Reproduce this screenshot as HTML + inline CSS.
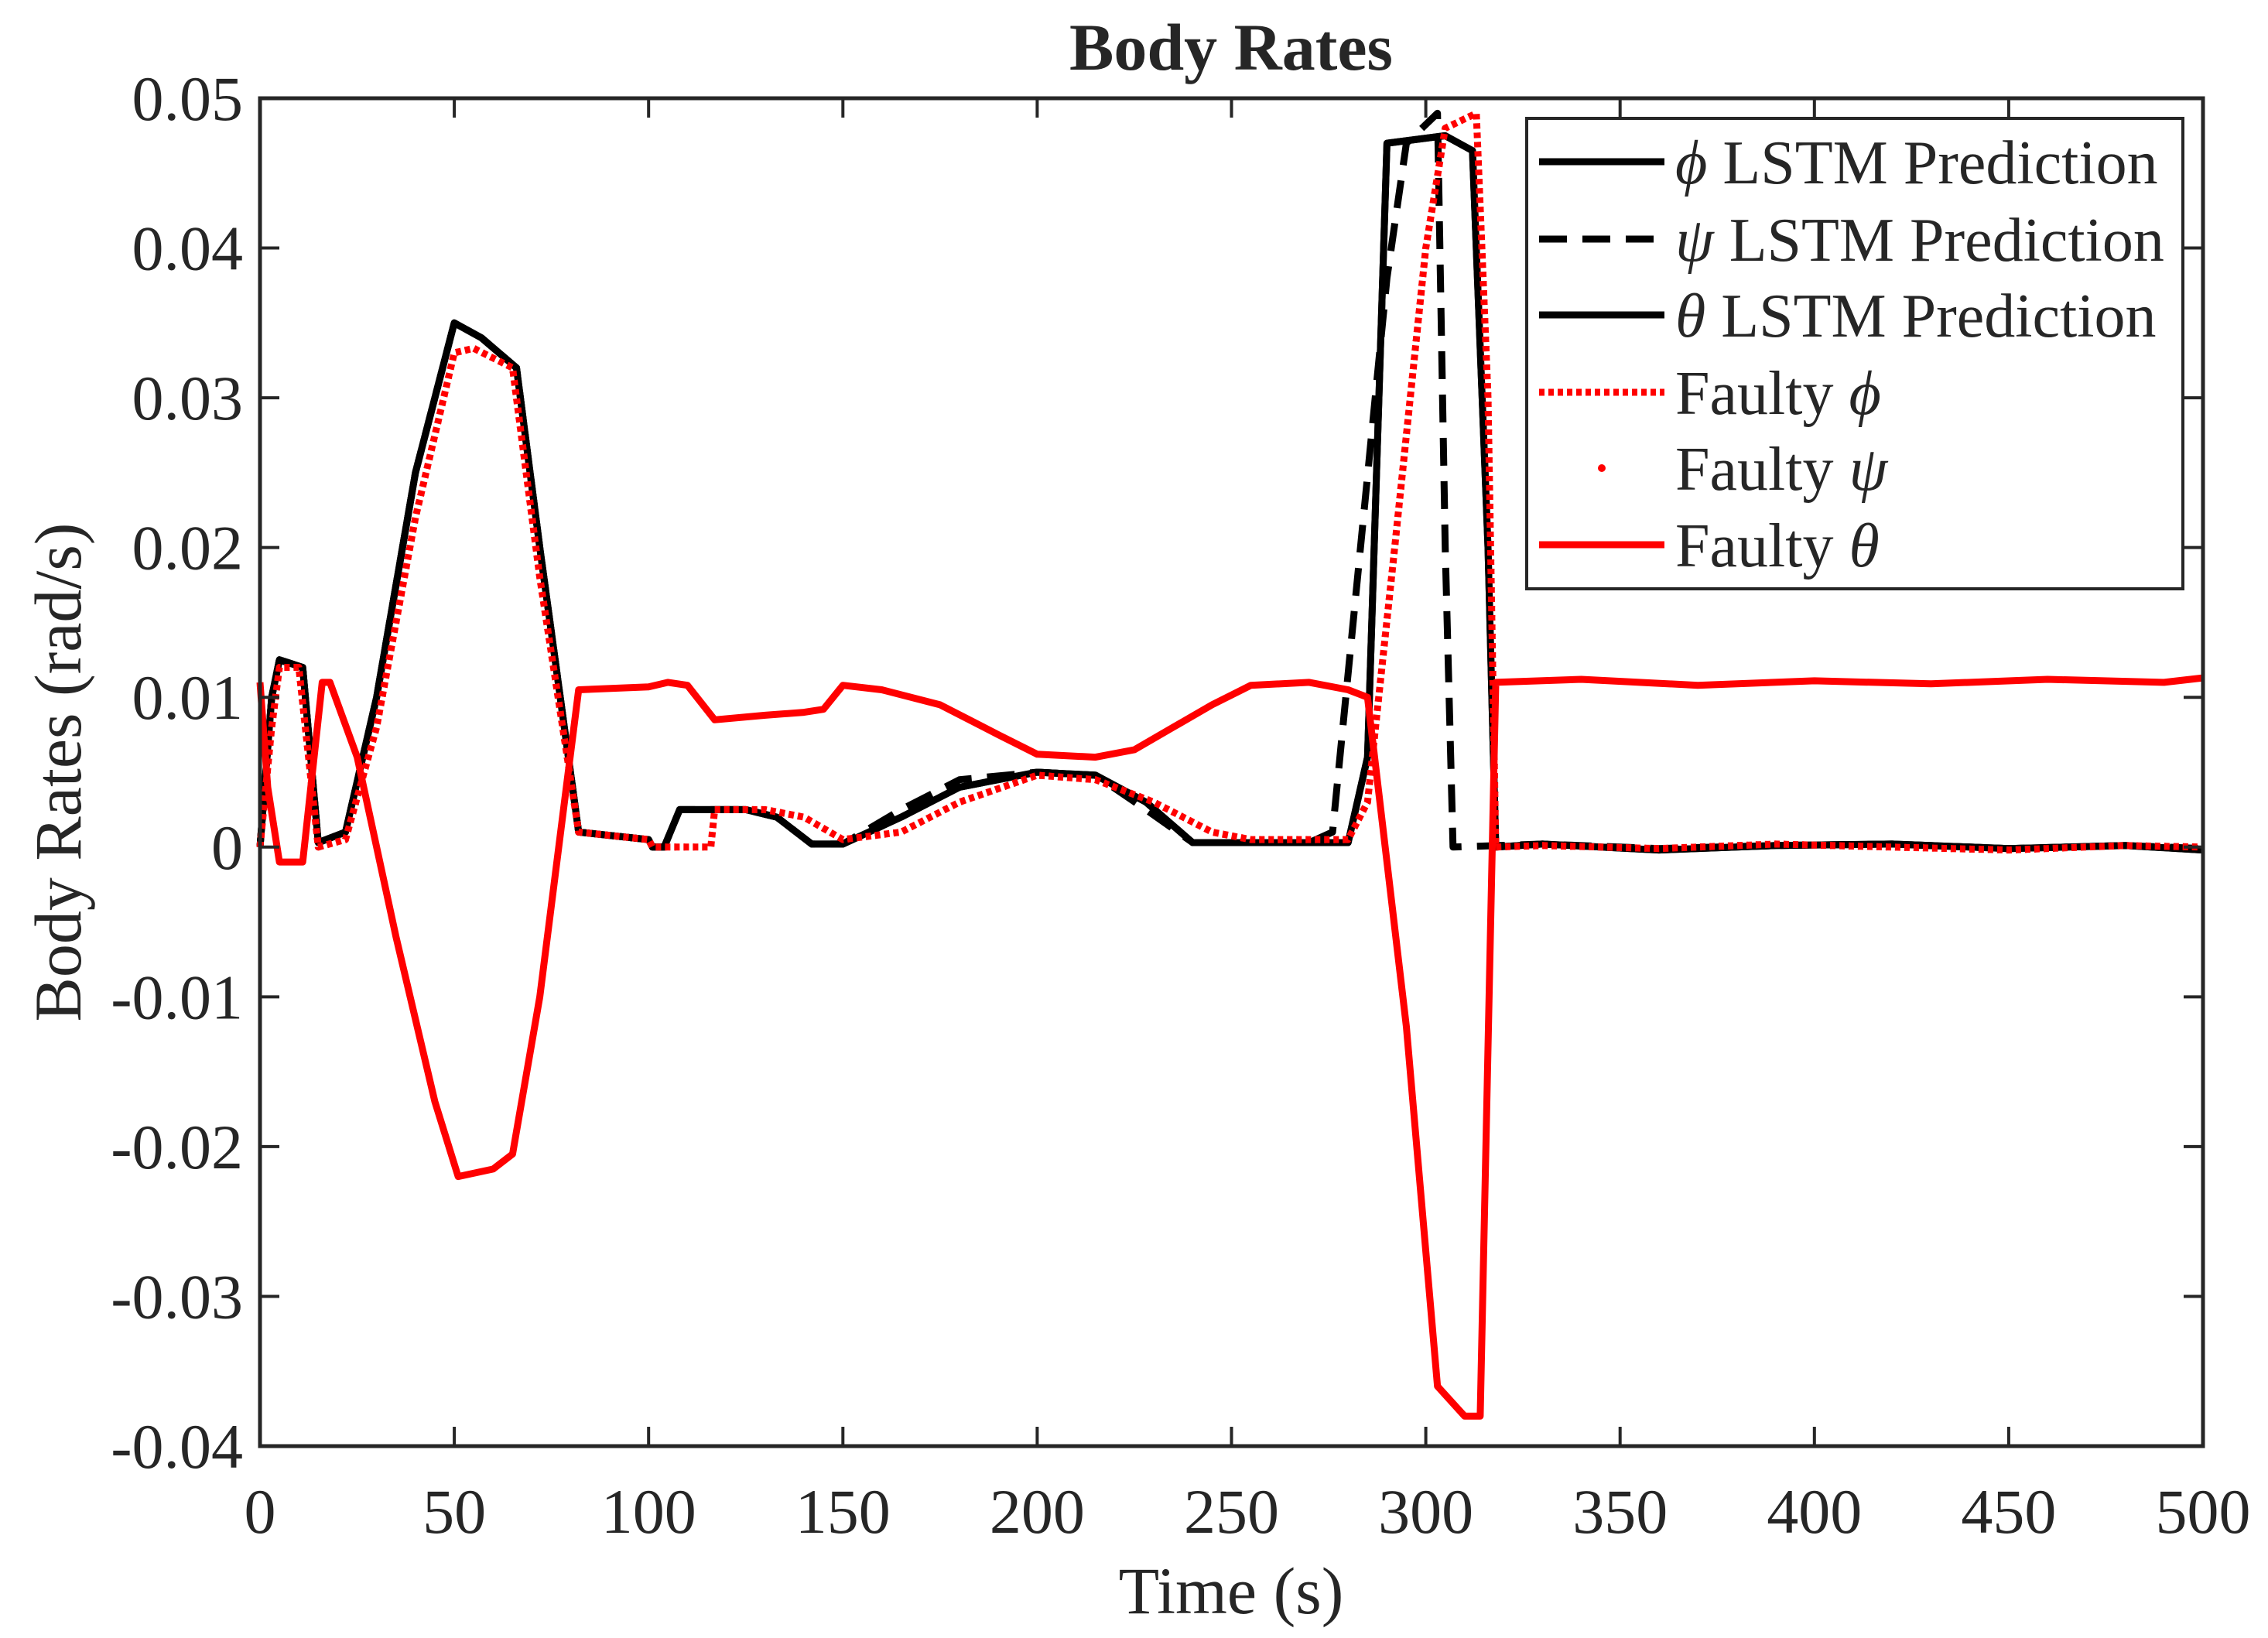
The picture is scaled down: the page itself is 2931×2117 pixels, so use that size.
<!DOCTYPE html>
<html><head><meta charset="utf-8"><style>
html,body{margin:0;padding:0;background:#fff}
svg{display:block}
text{font-family:"Liberation Serif",serif;fill:#262626}
</style></head><body>
<svg id="chart" width="2931" height="2117" viewBox="0 0 2931 2117" xmlns="http://www.w3.org/2000/svg">
<rect width="2931" height="2117" fill="#fff"/>
<g id="plot"></g>
<g id="axes"></g>
<text x="1591" y="90" font-size="86" font-weight="bold" text-anchor="middle" fill="#000">Body Rates</text>
<text x="1591" y="2085" font-size="86" text-anchor="middle">Time (s)</text>
<text transform="translate(104,998) rotate(-90)" font-size="86" text-anchor="middle">Body Rates (rad/s)</text>
<g id="legend"></g>
</svg>
<script>
const xTicks=[0,50,100,150,200,250,300,350,400,450,500];
const yTicks=[-0.04,-0.03,-0.02,-0.01,0,0.01,0.02,0.03,0.04,0.05];
const yTickLabels=["-0.04","-0.03","-0.02","-0.01","0","0.01","0.02","0.03","0.04","0.05"];

const tLstmPhi=[0,3,5,11,15,22,30,40,50,57,66,72,82,100,101,104,108,125,133,142,150,165,180,200,215,228,240,280,285,290,305,312,316,318,330,360,390,420,450,480,500];
const vLstmPhi=[0,0.01,0.0125,0.012,0.0003,0.001,0.01,0.025,0.035,0.034,0.032,0.02,0.001,0.0005,0,0,0.0025,0.0025,0.002,0.0002,0.0002,0.002,0.004,0.005,0.0048,0.003,0.0003,0.0003,0.006,0.047,0.0475,0.0465,0.02,0,0.0002,-0.0002,0.0001,0.0002,-0.0001,0.0001,-0.0002];
const tLstmPsi=[0,3,5,11,15,22,30,40,50,57,66,72,82,100,101,104,108,125,133,142,150,165,180,200,215,228,240,270,276,290,295,303,305,307,330,360,390,420,450,480,500];
const vLstmPsi=[0,0.01,0.0125,0.012,0.0003,0.001,0.01,0.025,0.035,0.034,0.032,0.02,0.001,0.0005,0,0,0.0025,0.0025,0.002,0.0002,0.0002,0.0025,0.0045,0.005,0.0048,0.0025,0.0003,0.0003,0.001,0.038,0.047,0.049,0.02,0,0.0002,-0.0001,0.0001,0.0002,-0.0001,0.0001,-0.0001];
const tLstmTheta=tLstmPhi;
const vLstmTheta=vLstmPhi;
const tFaultyPhi=[0,3,5,10,15,22,30,40,50,55,65,72,82,100,101,116,117,130,140,150,165,180,200,215,230,245,255,280,285,292,300,305,313,316,318,330,360,390,420,450,480,500];
const vFaultyPhi=[0,0.008,0.012,0.012,0,0.0005,0.008,0.022,0.033,0.0333,0.032,0.018,0.001,0.0005,0,0,0.0025,0.0025,0.002,0.0005,0.001,0.003,0.0048,0.0045,0.003,0.001,0.0005,0.0005,0.003,0.02,0.04,0.048,0.049,0.03,0,0.0001,-0.0001,0.0002,0,-0.0002,0.0001,0];
const tFaultyPsi=tFaultyPhi;
const vFaultyPsi=vFaultyPhi;
const tFaultyTheta=[0,2,5,11,16,18,25,35,45,51,60,65,72,82,100,105,110,117,130,140,145,150,160,175,190,200,215,225,235,245,255,270,280,285,295,303,310,314,318,340,370,400,430,460,490,500];
const vFaultyTheta=[0.011,0.004,-0.001,-0.001,0.011,0.011,0.006,-0.006,-0.017,-0.022,-0.0215,-0.0205,-0.01,0.0105,0.0107,0.011,0.0108,0.0085,0.0088,0.009,0.0092,0.0108,0.0105,0.0095,0.0075,0.0062,0.006,0.0065,0.008,0.0095,0.0108,0.011,0.0105,0.01,-0.012,-0.036,-0.038,-0.038,0.011,0.0112,0.0108,0.0111,0.0109,0.0112,0.011,0.0113];

const L=336,R=2847,T=127,B=1869;
const xs=t=>L+(t-0)/(500-0)*(R-L);
const ys=v=>B-(v-(-0.04))/(0.05-(-0.04))*(B-T);
const NS="http://www.w3.org/2000/svg";
function mk(tag,attrs,parent){const e=document.createElementNS(NS,tag);for(const k in attrs)e.setAttribute(k,attrs[k]);parent.appendChild(e);return e;}
const plot=document.getElementById('plot'),axes=document.getElementById('axes'),leg=document.getElementById('legend');
function pts(ts,vs){return ts.map((t,i)=>xs(t).toFixed(1)+','+ys(vs[i]).toFixed(1)).join(' ');}
const series=[
 {t:tLstmPhi,v:vLstmPhi,c:'#000',d:'',name:'lstm-phi-line'},
 {t:tLstmPsi,v:vLstmPsi,c:'#000',d:'36,20',name:'lstm-psi-line'},
 {t:tLstmTheta,v:vLstmTheta,c:'#000',d:'',name:'lstm-theta-line'},
 {t:tFaultyTheta,v:vFaultyTheta,c:'#ff0000',d:'',name:'faulty-theta-line'},
 {t:tFaultyPhi,v:vFaultyPhi,c:'#ff0000',d:'7,5',name:'faulty-phi-line'},
 {t:tFaultyPsi,v:vFaultyPsi,c:'#ff0000',d:'2,10',name:'faulty-psi-line'}];
series.forEach(s=>{
 const p=mk('polyline',{points:pts(s.t,s.v),fill:'none',stroke:s.c,'stroke-width':9,'stroke-linejoin':'round'},plot);
 if(s.d)p.setAttribute('stroke-dasharray',s.d);
 
 
});
mk('rect',{x:L,y:T,width:R-L,height:B-T,fill:'none',stroke:'#262626','stroke-width':5},axes);
xTicks.forEach(t=>{
 const x=xs(t);
 mk('line',{x1:x,x2:x,y1:B,y2:B-25,stroke:'#262626','stroke-width':4},axes);
 mk('line',{x1:x,x2:x,y1:T,y2:T+25,stroke:'#262626','stroke-width':4},axes);
 const tx=mk('text',{x:x,y:B+112,'font-size':82,'text-anchor':'middle'},axes);tx.textContent=t;
 
 
});
yTicks.forEach((v,i)=>{
 const y=ys(v);
 mk('line',{x1:L,x2:L+25,y1:y,y2:y,stroke:'#262626','stroke-width':4},axes);
 mk('line',{x1:R,x2:R-25,y1:y,y2:y,stroke:'#262626','stroke-width':4},axes);
 const tx=mk('text',{x:L-22,y:y+28,'font-size':82,'text-anchor':'end'},axes);tx.textContent=yTickLabels[i];
 
 
});
mk('rect',{x:1973,y:153,width:848,height:608,fill:'#fff',stroke:'#262626','stroke-width':4},leg);
const legItems=[
 {g:'ϕ',txt:' LSTM Prediction',c:'#000',d:'',y:209,pre:''},
 {g:'ψ',txt:' LSTM Prediction',c:'#000',d:'36,20',y:309,pre:''},
 {g:'θ',txt:' LSTM Prediction',c:'#000',d:'',y:407,pre:''},
 {g:'ϕ',txt:'',c:'#ff0000',d:'7,5',y:507,pre:'Faulty '},
 {g:'ψ',txt:'',c:'#ff0000',d:'dot',y:605,pre:'Faulty '},
 {g:'θ',txt:'',c:'#ff0000',d:'',y:704,pre:'Faulty '}];
legItems.forEach(it=>{
 if(it.d==='dot'){const c=mk('circle',{cx:2070,cy:it.y,r:5,fill:it.c},leg);}
 else{const l=mk('line',{x1:1989,x2:2151,y1:it.y,y2:it.y,stroke:it.c,'stroke-width':9},leg);if(it.d)l.setAttribute('stroke-dasharray',it.d);
  
  }
 const tx=mk('text',{x:2165,y:it.y+28,'font-size':80},leg);
 
 
 if(it.pre){const a=mk('tspan',{},tx);a.textContent=it.pre;}
 const g=mk('tspan',{'font-style':'italic'},tx);g.textContent=it.g;
 if(it.txt){const b=mk('tspan',{},tx);b.textContent=it.txt;}
});
</script>
</body></html>
